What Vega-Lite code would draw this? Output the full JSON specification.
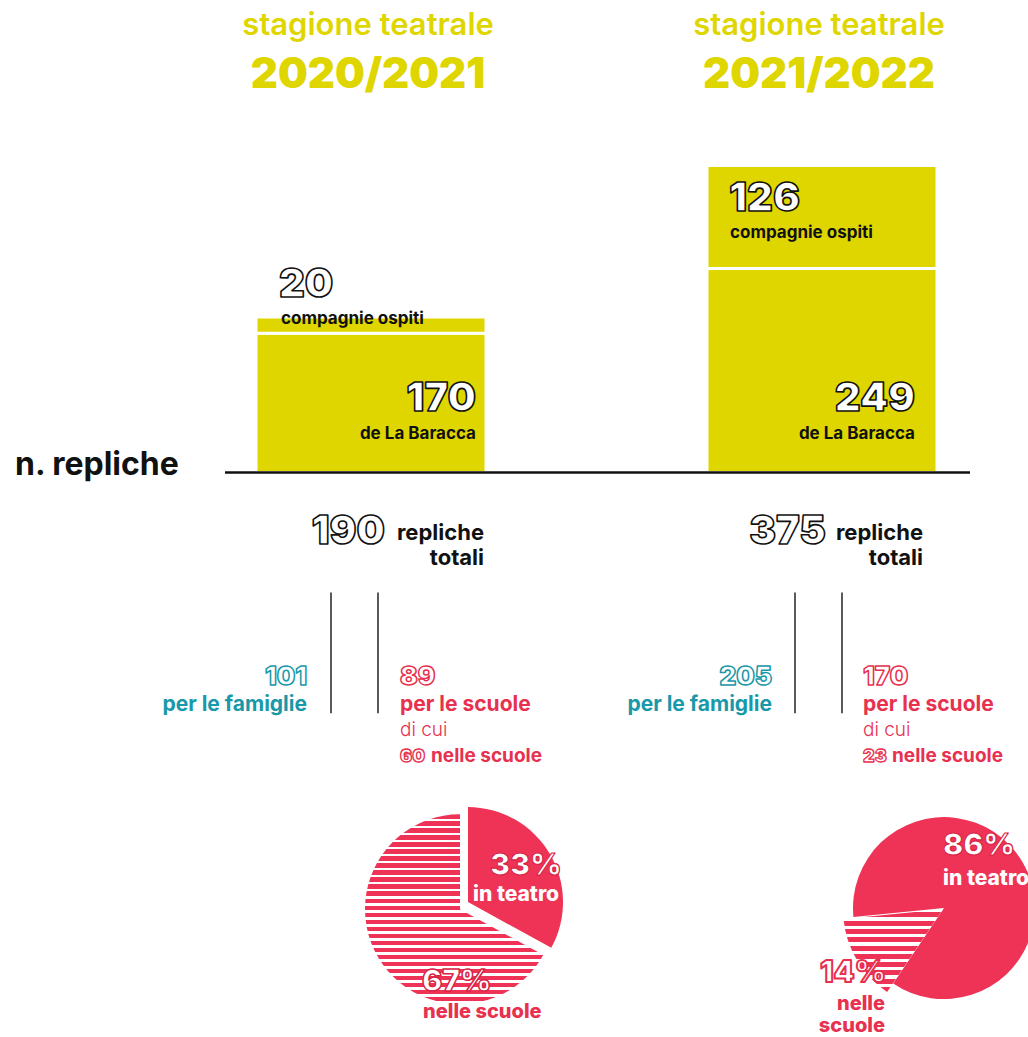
{
  "$schema": "https://vega.github.io/schema/vega-lite/v6.json",
  "autosize": {"type": "fit", "contains": "padding"},
  "width": 1028,
  "height": 1037,
  "padding": 0,
  "background": "#ffffff",
  "config": {
    "view": {"stroke": null},
    "axis": {"disable": true},
    "text": {"font": "Inter", "baseline": "alphabetic"}
  },
  "datasets": {
    "seasons": [{"season": "2020/2021"}, {"season": "2021/2022"}],
    "repliche": [
      {"season": "2020/2021", "produzione": "de La Baracca", "n": 170},
      {"season": "2020/2021", "produzione": "compagnie ospiti", "n": 20},
      {"season": "2021/2022", "produzione": "de La Baracca", "n": 249},
      {"season": "2021/2022", "produzione": "compagnie ospiti", "n": 126}
    ],
    "pubblico": [
      {"season": "2020/2021", "pubblico": "per le famiglie", "n": 101},
      {"season": "2020/2021", "pubblico": "per le scuole", "n": 89},
      {"season": "2021/2022", "pubblico": "per le famiglie", "n": 205},
      {"season": "2021/2022", "pubblico": "per le scuole", "n": 170}
    ],
    "nelle_scuole": [
      {"season": "2020/2021", "n": 60},
      {"season": "2021/2022", "n": 23}
    ],
    "luogo": [
      {"season": "2020/2021", "luogo": "in teatro", "quota": 0.33},
      {"season": "2020/2021", "luogo": "nelle scuole", "quota": 0.67},
      {"season": "2021/2022", "luogo": "in teatro", "quota": 0.86},
      {"season": "2021/2022", "luogo": "nelle scuole", "quota": 0.14}
    ]
  },
  "encoding": {
    "x": {"field": "season", "type": "nominal", "axis": null,
      "scale": {"domain": ["2020/2021", "2021/2022"], "range": [256, 937], "paddingInner": 0.49, "paddingOuter": 0, "align": 0.5, "round": false}}
  },
  "resolve": {"scale": {"theta": "independent"}},
  "layer": [
    {
      "data": {"name": "repliche"},
      "mark": {"type": "bar", "color": "#DFD600", "stroke": "#ffffff", "strokeWidth": 3},
      "encoding": {
        "y": {"field": "n", "type": "quantitative", "stack": "zero", "axis": null,
          "scale": {"domain": [-688, 577], "nice": false, "zero": false}},
        "detail": {"field": "produzione"},
        "order": {"field": "produzione", "sort": "descending"}
      }
    },
    {
      "data": {"name": "seasons"},
      "transform": [{"filter": "datum.season == '2020/2021'"}],
      "mark": {"type": "rule", "color": "#111111", "strokeWidth": 2.5, "xOffset": -146, "x2Offset": 148},
      "encoding": {
        "x": {"datum": "2020/2021", "type": "nominal"},
        "x2": {"datum": "2021/2022"},
        "y": {"datum": 0, "type": "quantitative"}
      }
    },
    {
      "data": {"name": "seasons"},
      "mark": {"type": "text", "text": "stagione teatrale", "align": "center", "dx": -3, "fontSize": 31, "fontWeight": 600, "color": "#DFD600"},
      "encoding": {"y": {"datum": 534.3, "type": "quantitative"}}
    },
    {
      "data": {"name": "seasons"},
      "mark": {"type": "text", "align": "center", "dx": -3, "fontSize": 42, "fontWeight": 900, "color": "#DFD600"},
      "encoding": {"y": {"datum": 469.6, "type": "quantitative"}, "text": {"field": "season"}}
    },
    {
      "data": {"name": "repliche"},
      "transform": [{"filter": "datum.season == '2020/2021' && datum.produzione == 'compagnie ospiti'"}],
      "mark": {"type": "text", "align": "left", "dx": -92, "fontSize": 40, "fontWeight": 900, "fill": "#ffffff", "stroke": "#111111", "strokeWidth": 1.6, "strokeJoin": "round"},
      "encoding": {"y": {"datum": 214.7, "type": "quantitative"}, "text": {"field": "n"}}
    },
    {
      "data": {"name": "repliche"},
      "transform": [{"filter": "datum.season == '2020/2021' && datum.produzione == 'compagnie ospiti'"}],
      "mark": {"type": "text", "align": "left", "dx": -90, "fontSize": 17, "fontWeight": 700, "color": "#111111"},
      "encoding": {"y": {"datum": 181.8, "type": "quantitative"}, "text": {"field": "produzione"}}
    },
    {
      "data": {"name": "repliche"},
      "transform": [{"filter": "datum.season == '2020/2021' && datum.produzione == 'de La Baracca'"}],
      "mark": {"type": "text", "align": "right", "dx": 105, "fontSize": 40, "fontWeight": 900, "fill": "#ffffff", "stroke": "#111111", "strokeWidth": 1.6, "strokeJoin": "round"},
      "encoding": {"y": {"datum": 75.6, "type": "quantitative"}, "text": {"field": "n"}}
    },
    {
      "data": {"name": "repliche"},
      "transform": [{"filter": "datum.season == '2020/2021' && datum.produzione == 'de La Baracca'"}],
      "mark": {"type": "text", "align": "right", "dx": 105, "fontSize": 17, "fontWeight": 700, "color": "#111111"},
      "encoding": {"y": {"datum": 41.5, "type": "quantitative"}, "text": {"field": "produzione"}}
    },
    {
      "data": {"name": "repliche"},
      "transform": [{"filter": "datum.season == '2021/2022' && datum.produzione == 'compagnie ospiti'"}],
      "mark": {"type": "text", "align": "left", "dx": -93, "fontSize": 40, "fontWeight": 900, "fill": "#ffffff", "stroke": "#111111", "strokeWidth": 1.6, "strokeJoin": "round"},
      "encoding": {"y": {"datum": 319.6, "type": "quantitative"}, "text": {"field": "n"}}
    },
    {
      "data": {"name": "repliche"},
      "transform": [{"filter": "datum.season == '2021/2022' && datum.produzione == 'compagnie ospiti'"}],
      "mark": {"type": "text", "align": "left", "dx": -92, "fontSize": 17, "fontWeight": 700, "color": "#111111"},
      "encoding": {"y": {"datum": 286.7, "type": "quantitative"}, "text": {"field": "produzione"}}
    },
    {
      "data": {"name": "repliche"},
      "transform": [{"filter": "datum.season == '2021/2022' && datum.produzione == 'de La Baracca'"}],
      "mark": {"type": "text", "align": "right", "dx": 93, "fontSize": 40, "fontWeight": 900, "fill": "#ffffff", "stroke": "#111111", "strokeWidth": 1.6, "strokeJoin": "round"},
      "encoding": {"y": {"datum": 75.6, "type": "quantitative"}, "text": {"field": "n"}}
    },
    {
      "data": {"name": "repliche"},
      "transform": [{"filter": "datum.season == '2021/2022' && datum.produzione == 'de La Baracca'"}],
      "mark": {"type": "text", "align": "right", "dx": 93, "fontSize": 17, "fontWeight": 700, "color": "#111111"},
      "encoding": {"y": {"datum": 41.5, "type": "quantitative"}, "text": {"field": "produzione"}}
    },
    {
      "data": {"name": "seasons"},
      "transform": [{"filter": "datum.season == '2020/2021'"}],
      "mark": {"type": "text", "text": "n. repliche", "align": "left", "dx": -356, "fontSize": 32, "fontWeight": 700, "color": "#111111"},
      "encoding": {"y": {"datum": -2.4, "type": "quantitative"}}
    },
    {
      "data": {"name": "repliche"},
      "transform": [{"aggregate": [{"op": "sum", "field": "n", "as": "totale"}], "groupby": ["season"]}, {"filter": "datum.season == '2020/2021'"}],
      "mark": {"type": "text", "align": "right", "dx": 14, "fontSize": 40, "fontWeight": 900, "fill": "#ffffff", "stroke": "#111111", "strokeWidth": 1.6, "strokeJoin": "round"},
      "encoding": {"y": {"datum": -87.8, "type": "quantitative"}, "text": {"field": "totale"}}
    },
    {
      "data": {"name": "repliche"},
      "transform": [{"aggregate": [{"op": "sum", "field": "n", "as": "totale"}], "groupby": ["season"]}, {"filter": "datum.season == '2021/2022'"}],
      "mark": {"type": "text", "align": "right", "dx": 4, "fontSize": 40, "fontWeight": 900, "fill": "#ffffff", "stroke": "#111111", "strokeWidth": 1.6, "strokeJoin": "round"},
      "encoding": {"y": {"datum": -87.8, "type": "quantitative"}, "text": {"field": "totale"}}
    },
    {
      "data": {"name": "seasons"},
      "transform": [{"filter": "datum.season == '2020/2021'"}],
      "mark": {"type": "text", "text": ["repliche", "totali"], "lineHeight": 25, "align": "right", "dx": 113, "fontSize": 22, "fontWeight": 700, "color": "#111111"},
      "encoding": {"y": {"datum": -82.9, "type": "quantitative"}}
    },
    {
      "data": {"name": "seasons"},
      "transform": [{"filter": "datum.season == '2021/2022'"}],
      "mark": {"type": "text", "text": ["repliche", "totali"], "lineHeight": 25, "align": "right", "dx": 101, "fontSize": 22, "fontWeight": 700, "color": "#111111"},
      "encoding": {"y": {"datum": -82.9, "type": "quantitative"}}
    },
    {
      "data": {"name": "seasons"},
      "transform": [{"filter": "datum.season == '2020/2021'"}],
      "mark": {"type": "rule", "color": "#222222", "strokeWidth": 1.5, "xOffset": -40},
      "encoding": {"y": {"datum": -146.4, "type": "quantitative"}, "y2": {"datum": -294}}
    },
    {
      "data": {"name": "seasons"},
      "transform": [{"filter": "datum.season == '2020/2021'"}],
      "mark": {"type": "rule", "color": "#222222", "strokeWidth": 1.5, "xOffset": 7},
      "encoding": {"y": {"datum": -146.4, "type": "quantitative"}, "y2": {"datum": -294}}
    },
    {
      "data": {"name": "seasons"},
      "transform": [{"filter": "datum.season == '2021/2022'"}],
      "mark": {"type": "rule", "color": "#222222", "strokeWidth": 1.5, "xOffset": -27},
      "encoding": {"y": {"datum": -146.4, "type": "quantitative"}, "y2": {"datum": -294}}
    },
    {
      "data": {"name": "seasons"},
      "transform": [{"filter": "datum.season == '2021/2022'"}],
      "mark": {"type": "rule", "color": "#222222", "strokeWidth": 1.5, "xOffset": 20},
      "encoding": {"y": {"datum": -146.4, "type": "quantitative"}, "y2": {"datum": -294}}
    },
    {
      "data": {"name": "pubblico"},
      "transform": [{"filter": "datum.season == '2020/2021' && datum.pubblico == 'per le famiglie'"}],
      "mark": {"type": "text", "align": "right", "dx": -64, "fontSize": 26, "fontWeight": 900, "fill": "#ffffff", "stroke": "#1898A9", "strokeWidth": 1.5, "strokeJoin": "round"},
      "encoding": {"y": {"datum": -259.8, "type": "quantitative"}, "text": {"field": "n"}}
    },
    {
      "data": {"name": "pubblico"},
      "transform": [{"filter": "datum.season == '2020/2021' && datum.pubblico == 'per le famiglie'"}],
      "mark": {"type": "text", "align": "right", "dx": -64, "fontSize": 21, "fontWeight": 700, "color": "#1898A9"},
      "encoding": {"y": {"datum": -291.5, "type": "quantitative"}, "text": {"field": "pubblico"}}
    },
    {
      "data": {"name": "pubblico"},
      "transform": [{"filter": "datum.season == '2021/2022' && datum.pubblico == 'per le famiglie'"}],
      "mark": {"type": "text", "align": "right", "dx": -50, "fontSize": 26, "fontWeight": 900, "fill": "#ffffff", "stroke": "#1898A9", "strokeWidth": 1.5, "strokeJoin": "round"},
      "encoding": {"y": {"datum": -259.8, "type": "quantitative"}, "text": {"field": "n"}}
    },
    {
      "data": {"name": "pubblico"},
      "transform": [{"filter": "datum.season == '2021/2022' && datum.pubblico == 'per le famiglie'"}],
      "mark": {"type": "text", "align": "right", "dx": -50, "fontSize": 21, "fontWeight": 700, "color": "#1898A9"},
      "encoding": {"y": {"datum": -291.5, "type": "quantitative"}, "text": {"field": "pubblico"}}
    },
    {
      "data": {"name": "pubblico"},
      "transform": [{"filter": "datum.season == '2020/2021' && datum.pubblico == 'per le scuole'"}],
      "mark": {"type": "text", "align": "left", "dx": 29, "fontSize": 26, "fontWeight": 900, "fill": "#ffffff", "stroke": "#E8304F", "strokeWidth": 1.5, "strokeJoin": "round"},
      "encoding": {"y": {"datum": -259.8, "type": "quantitative"}, "text": {"field": "n"}}
    },
    {
      "data": {"name": "pubblico"},
      "transform": [{"filter": "datum.season == '2020/2021' && datum.pubblico == 'per le scuole'"}],
      "mark": {"type": "text", "align": "left", "dx": 29, "fontSize": 21, "fontWeight": 700, "color": "#E8304F"},
      "encoding": {"y": {"datum": -291.5, "type": "quantitative"}, "text": {"field": "pubblico"}}
    },
    {
      "data": {"name": "seasons"},
      "transform": [{"filter": "datum.season == '2020/2021'"}],
      "mark": {"type": "text", "text": "di cui", "align": "left", "dx": 29, "fontSize": 19, "fontWeight": 300, "color": "#E8304F"},
      "encoding": {"y": {"datum": -322, "type": "quantitative"}}
    },
    {
      "data": {"name": "nelle_scuole"},
      "transform": [{"filter": "datum.season == '2020/2021'"}],
      "mark": {"type": "text", "align": "left", "dx": 29, "fontSize": 18, "fontWeight": 900, "fill": "#ffffff", "stroke": "#E8304F", "strokeWidth": 1.3, "strokeJoin": "round"},
      "encoding": {"y": {"datum": -353.7, "type": "quantitative"}, "text": {"field": "n"}}
    },
    {
      "data": {"name": "seasons"},
      "transform": [{"filter": "datum.season == '2020/2021'"}],
      "mark": {"type": "text", "text": "nelle scuole", "align": "left", "dx": 60, "fontSize": 19, "fontWeight": 700, "color": "#E8304F"},
      "encoding": {"y": {"datum": -353.7, "type": "quantitative"}}
    },
    {
      "data": {"name": "pubblico"},
      "transform": [{"filter": "datum.season == '2021/2022' && datum.pubblico == 'per le scuole'"}],
      "mark": {"type": "text", "align": "left", "dx": 41, "fontSize": 26, "fontWeight": 900, "fill": "#ffffff", "stroke": "#E8304F", "strokeWidth": 1.5, "strokeJoin": "round"},
      "encoding": {"y": {"datum": -259.8, "type": "quantitative"}, "text": {"field": "n"}}
    },
    {
      "data": {"name": "pubblico"},
      "transform": [{"filter": "datum.season == '2021/2022' && datum.pubblico == 'per le scuole'"}],
      "mark": {"type": "text", "align": "left", "dx": 41, "fontSize": 21, "fontWeight": 700, "color": "#E8304F"},
      "encoding": {"y": {"datum": -291.5, "type": "quantitative"}, "text": {"field": "pubblico"}}
    },
    {
      "data": {"name": "seasons"},
      "transform": [{"filter": "datum.season == '2021/2022'"}],
      "mark": {"type": "text", "text": "di cui", "align": "left", "dx": 41, "fontSize": 19, "fontWeight": 300, "color": "#E8304F"},
      "encoding": {"y": {"datum": -322, "type": "quantitative"}}
    },
    {
      "data": {"name": "nelle_scuole"},
      "transform": [{"filter": "datum.season == '2021/2022'"}],
      "mark": {"type": "text", "align": "left", "dx": 41, "fontSize": 18, "fontWeight": 900, "fill": "#ffffff", "stroke": "#E8304F", "strokeWidth": 1.3, "strokeJoin": "round"},
      "encoding": {"y": {"datum": -353.7, "type": "quantitative"}, "text": {"field": "n"}}
    },
    {
      "data": {"name": "seasons"},
      "transform": [{"filter": "datum.season == '2021/2022'"}],
      "mark": {"type": "text", "text": "nelle scuole", "align": "left", "dx": 70, "fontSize": 19, "fontWeight": 700, "color": "#E8304F"},
      "encoding": {"y": {"datum": -353.7, "type": "quantitative"}}
    },
    {
      "data": {"name": "luogo"},
      "transform": [
        {"stack": "quota", "groupby": ["season"], "sort": [{"field": "luogo", "order": "ascending"}], "as": ["t0", "t1"]},
        {"filter": "datum.season == '2020/2021' && datum.luogo == 'nelle scuole'"}
      ],
      "mark": {"type": "arc", "outerRadius": 95, "xOffset": 89,
        "fill": {"gradient": "linear", "x1": 0, "y1": 0, "x2": 0, "y2": 1, "stops": [
          {"offset": 0, "color": "#EE3356"}, {"offset": 0.023, "color": "#EE3356"}, {"offset": 0.023, "color": "#ffffff"}, {"offset": 0.037, "color": "#ffffff"},
          {"offset": 0.037, "color": "#EE3356"}, {"offset": 0.060, "color": "#EE3356"}, {"offset": 0.060, "color": "#ffffff"}, {"offset": 0.074, "color": "#ffffff"},
          {"offset": 0.074, "color": "#EE3356"}, {"offset": 0.097, "color": "#EE3356"}, {"offset": 0.097, "color": "#ffffff"}, {"offset": 0.111, "color": "#ffffff"},
          {"offset": 0.111, "color": "#EE3356"}, {"offset": 0.134, "color": "#EE3356"}, {"offset": 0.134, "color": "#ffffff"}, {"offset": 0.148, "color": "#ffffff"},
          {"offset": 0.148, "color": "#EE3356"}, {"offset": 0.171, "color": "#EE3356"}, {"offset": 0.171, "color": "#ffffff"}, {"offset": 0.185, "color": "#ffffff"},
          {"offset": 0.185, "color": "#EE3356"}, {"offset": 0.208, "color": "#EE3356"}, {"offset": 0.208, "color": "#ffffff"}, {"offset": 0.222, "color": "#ffffff"},
          {"offset": 0.222, "color": "#EE3356"}, {"offset": 0.245, "color": "#EE3356"}, {"offset": 0.245, "color": "#ffffff"}, {"offset": 0.259, "color": "#ffffff"},
          {"offset": 0.259, "color": "#EE3356"}, {"offset": 0.282, "color": "#EE3356"}, {"offset": 0.282, "color": "#ffffff"}, {"offset": 0.296, "color": "#ffffff"},
          {"offset": 0.296, "color": "#EE3356"}, {"offset": 0.319, "color": "#EE3356"}, {"offset": 0.319, "color": "#ffffff"}, {"offset": 0.333, "color": "#ffffff"},
          {"offset": 0.333, "color": "#EE3356"}, {"offset": 0.356, "color": "#EE3356"}, {"offset": 0.356, "color": "#ffffff"}, {"offset": 0.370, "color": "#ffffff"},
          {"offset": 0.370, "color": "#EE3356"}, {"offset": 0.393, "color": "#EE3356"}, {"offset": 0.393, "color": "#ffffff"}, {"offset": 0.407, "color": "#ffffff"},
          {"offset": 0.407, "color": "#EE3356"}, {"offset": 0.430, "color": "#EE3356"}, {"offset": 0.430, "color": "#ffffff"}, {"offset": 0.444, "color": "#ffffff"},
          {"offset": 0.444, "color": "#EE3356"}, {"offset": 0.467, "color": "#EE3356"}, {"offset": 0.467, "color": "#ffffff"}, {"offset": 0.481, "color": "#ffffff"},
          {"offset": 0.481, "color": "#EE3356"}, {"offset": 0.504, "color": "#EE3356"}, {"offset": 0.504, "color": "#ffffff"}, {"offset": 0.519, "color": "#ffffff"},
          {"offset": 0.519, "color": "#EE3356"}, {"offset": 0.541, "color": "#EE3356"}, {"offset": 0.541, "color": "#ffffff"}, {"offset": 0.556, "color": "#ffffff"},
          {"offset": 0.556, "color": "#EE3356"}, {"offset": 0.579, "color": "#EE3356"}, {"offset": 0.579, "color": "#ffffff"}, {"offset": 0.593, "color": "#ffffff"},
          {"offset": 0.593, "color": "#EE3356"}, {"offset": 0.616, "color": "#EE3356"}, {"offset": 0.616, "color": "#ffffff"}, {"offset": 0.630, "color": "#ffffff"},
          {"offset": 0.630, "color": "#EE3356"}, {"offset": 0.653, "color": "#EE3356"}, {"offset": 0.653, "color": "#ffffff"}, {"offset": 0.667, "color": "#ffffff"},
          {"offset": 0.667, "color": "#EE3356"}, {"offset": 0.690, "color": "#EE3356"}, {"offset": 0.690, "color": "#ffffff"}, {"offset": 0.704, "color": "#ffffff"},
          {"offset": 0.704, "color": "#EE3356"}, {"offset": 0.727, "color": "#EE3356"}, {"offset": 0.727, "color": "#ffffff"}, {"offset": 0.741, "color": "#ffffff"},
          {"offset": 0.741, "color": "#EE3356"}, {"offset": 0.764, "color": "#EE3356"}, {"offset": 0.764, "color": "#ffffff"}, {"offset": 0.778, "color": "#ffffff"},
          {"offset": 0.778, "color": "#EE3356"}, {"offset": 0.801, "color": "#EE3356"}, {"offset": 0.801, "color": "#ffffff"}, {"offset": 0.815, "color": "#ffffff"},
          {"offset": 0.815, "color": "#EE3356"}, {"offset": 0.838, "color": "#EE3356"}, {"offset": 0.838, "color": "#ffffff"}, {"offset": 0.852, "color": "#ffffff"},
          {"offset": 0.852, "color": "#EE3356"}, {"offset": 0.875, "color": "#EE3356"}, {"offset": 0.875, "color": "#ffffff"}, {"offset": 0.889, "color": "#ffffff"},
          {"offset": 0.889, "color": "#EE3356"}, {"offset": 0.912, "color": "#EE3356"}, {"offset": 0.912, "color": "#ffffff"}, {"offset": 0.926, "color": "#ffffff"},
          {"offset": 0.926, "color": "#EE3356"}, {"offset": 0.949, "color": "#EE3356"}, {"offset": 0.949, "color": "#ffffff"}, {"offset": 0.963, "color": "#ffffff"},
          {"offset": 0.963, "color": "#EE3356"}, {"offset": 0.986, "color": "#EE3356"}, {"offset": 0.986, "color": "#ffffff"}, {"offset": 1, "color": "#ffffff"}
        ]}},
      "encoding": {
        "y": {"datum": -533.1, "type": "quantitative"},
        "theta": {"field": "t0", "type": "quantitative", "scale": {"domain": [0, 1], "range": [0, 6.2832]}},
        "theta2": {"field": "t1"}
      }
    },
    {
      "data": {"name": "luogo"},
      "transform": [
        {"stack": "quota", "groupby": ["season"], "sort": [{"field": "luogo", "order": "ascending"}], "as": ["t0", "t1"]},
        {"filter": "datum.season == '2020/2021' && datum.luogo == 'in teatro'"}
      ],
      "mark": {"type": "arc", "outerRadius": 95, "xOffset": 97, "fill": "#EE3356"},
      "encoding": {
        "y": {"datum": -524.5, "type": "quantitative"},
        "theta": {"field": "t0", "type": "quantitative", "scale": {"domain": [0, 1], "range": [0, 6.2832]}},
        "theta2": {"field": "t1"}
      }
    },
    {
      "data": {"name": "luogo"},
      "transform": [
        {"stack": "quota", "groupby": ["season"], "sort": [{"field": "luogo", "order": "ascending"}], "as": ["t0", "t1"]},
        {"filter": "datum.season == '2021/2022' && datum.luogo == 'in teatro'"}
      ],
      "mark": {"type": "arc", "outerRadius": 91, "xOffset": 122, "fill": "#EE3356"},
      "encoding": {
        "y": {"datum": -531.8, "type": "quantitative"},
        "theta": {"field": "t0", "type": "quantitative", "scale": {"domain": [0, 1], "range": [-1.6686, 4.6146]}},
        "theta2": {"field": "t1"}
      }
    },
    {
      "data": {"name": "luogo"},
      "transform": [
        {"stack": "quota", "groupby": ["season"], "sort": [{"field": "luogo", "order": "ascending"}], "as": ["t0", "t1"]},
        {"filter": "datum.season == '2021/2022' && datum.luogo == 'nelle scuole'"}
      ],
      "mark": {"type": "arc", "outerRadius": 100, "xOffset": 121,
        "fill": {"gradient": "linear", "x1": 0, "y1": 0, "x2": 0, "y2": 1, "stops": [
          {"offset": 0, "color": "#ffffff"}, {"offset": 0.04, "color": "#ffffff"}, {"offset": 0.04, "color": "#EE3356"}, {"offset": 0.1, "color": "#EE3356"},
          {"offset": 0.1, "color": "#ffffff"}, {"offset": 0.14, "color": "#ffffff"}, {"offset": 0.14, "color": "#EE3356"}, {"offset": 0.2, "color": "#EE3356"},
          {"offset": 0.2, "color": "#ffffff"}, {"offset": 0.24, "color": "#ffffff"}, {"offset": 0.24, "color": "#EE3356"}, {"offset": 0.3, "color": "#EE3356"},
          {"offset": 0.3, "color": "#ffffff"}, {"offset": 0.34, "color": "#ffffff"}, {"offset": 0.34, "color": "#EE3356"}, {"offset": 0.4, "color": "#EE3356"},
          {"offset": 0.4, "color": "#ffffff"}, {"offset": 0.44, "color": "#ffffff"}, {"offset": 0.44, "color": "#EE3356"}, {"offset": 0.5, "color": "#EE3356"},
          {"offset": 0.5, "color": "#ffffff"}, {"offset": 0.54, "color": "#ffffff"}, {"offset": 0.54, "color": "#EE3356"}, {"offset": 0.6, "color": "#EE3356"},
          {"offset": 0.6, "color": "#ffffff"}, {"offset": 0.64, "color": "#ffffff"}, {"offset": 0.64, "color": "#EE3356"}, {"offset": 0.7, "color": "#EE3356"},
          {"offset": 0.7, "color": "#ffffff"}, {"offset": 0.74, "color": "#ffffff"}, {"offset": 0.74, "color": "#EE3356"}, {"offset": 0.8, "color": "#EE3356"},
          {"offset": 0.8, "color": "#ffffff"}, {"offset": 0.84, "color": "#ffffff"}, {"offset": 0.84, "color": "#EE3356"}, {"offset": 0.9, "color": "#EE3356"},
          {"offset": 0.9, "color": "#ffffff"}, {"offset": 0.94, "color": "#ffffff"}, {"offset": 0.94, "color": "#EE3356"}, {"offset": 1, "color": "#EE3356"}
        ]}},
      "encoding": {
        "y": {"datum": -533.1, "type": "quantitative"},
        "theta": {"field": "t0", "type": "quantitative", "scale": {"domain": [0, 1], "range": [-1.6686, 4.6146]}},
        "theta2": {"field": "t1"}
      }
    },
    {
      "data": {"name": "luogo"},
      "transform": [{"filter": "datum.season == '2020/2021' && datum.luogo == 'in teatro'"}],
      "mark": {"type": "text", "align": "left", "dx": 119, "fontSize": 30, "fontWeight": 900, "fill": "#ffffff", "stroke": "#D82445", "strokeWidth": 1.2, "strokeJoin": "round"},
      "encoding": {"y": {"datum": -491.6, "type": "quantitative"}, "text": {"field": "quota", "format": ".0%"}}
    },
    {
      "data": {"name": "luogo"},
      "transform": [{"filter": "datum.season == '2020/2021' && datum.luogo == 'in teatro'"}],
      "mark": {"type": "text", "align": "left", "dx": 102, "fontSize": 21, "fontWeight": 800, "color": "#ffffff"},
      "encoding": {"y": {"datum": -523.3, "type": "quantitative"}, "text": {"field": "luogo"}}
    },
    {
      "data": {"name": "luogo"},
      "transform": [{"filter": "datum.season == '2020/2021' && datum.luogo == 'nelle scuole'"}],
      "mark": {"type": "text", "align": "left", "dx": 51, "fontSize": 30, "fontWeight": 900, "fill": "#ffffff", "stroke": "#D82445", "strokeWidth": 1.5, "strokeJoin": "round"},
      "encoding": {"y": {"datum": -633.1, "type": "quantitative"}, "text": {"field": "quota", "format": ".0%"}}
    },
    {
      "data": {"name": "luogo"},
      "transform": [{"filter": "datum.season == '2020/2021' && datum.luogo == 'nelle scuole'"}],
      "mark": {"type": "text", "align": "left", "dx": 52, "fontSize": 20, "fontWeight": 800, "color": "#E8304F"},
      "encoding": {"y": {"datum": -666, "type": "quantitative"}, "text": {"field": "luogo"}}
    },
    {
      "data": {"name": "luogo"},
      "transform": [{"filter": "datum.season == '2021/2022' && datum.luogo == 'in teatro'"}],
      "mark": {"type": "text", "align": "left", "dx": 121, "fontSize": 30, "fontWeight": 900, "fill": "#ffffff", "stroke": "#D82445", "strokeWidth": 1.2, "strokeJoin": "round"},
      "encoding": {"y": {"datum": -467.2, "type": "quantitative"}, "text": {"field": "quota", "format": ".0%"}}
    },
    {
      "data": {"name": "luogo"},
      "transform": [{"filter": "datum.season == '2021/2022' && datum.luogo == 'in teatro'"}],
      "mark": {"type": "text", "align": "left", "dx": 121, "fontSize": 21, "fontWeight": 800, "color": "#ffffff"},
      "encoding": {"y": {"datum": -503.8, "type": "quantitative"}, "text": {"field": "luogo"}}
    },
    {
      "data": {"name": "luogo"},
      "transform": [{"filter": "datum.season == '2021/2022' && datum.luogo == 'nelle scuole'"}],
      "mark": {"type": "text", "align": "left", "dx": -2, "fontSize": 30, "fontWeight": 900, "fill": "#ffffff", "stroke": "#E8304F", "strokeWidth": 2, "strokeJoin": "round"},
      "encoding": {"y": {"datum": -622.1, "type": "quantitative"}, "text": {"field": "quota", "format": ".0%"}}
    },
    {
      "data": {"name": "seasons"},
      "transform": [{"filter": "datum.season == '2021/2022'"}],
      "mark": {"type": "text", "text": ["nelle", "scuole"], "lineHeight": 22, "align": "right", "dx": 63, "fontSize": 20, "fontWeight": 800, "color": "#E8304F"},
      "encoding": {"y": {"datum": -656.3, "type": "quantitative"}}
    }
  ]
}
